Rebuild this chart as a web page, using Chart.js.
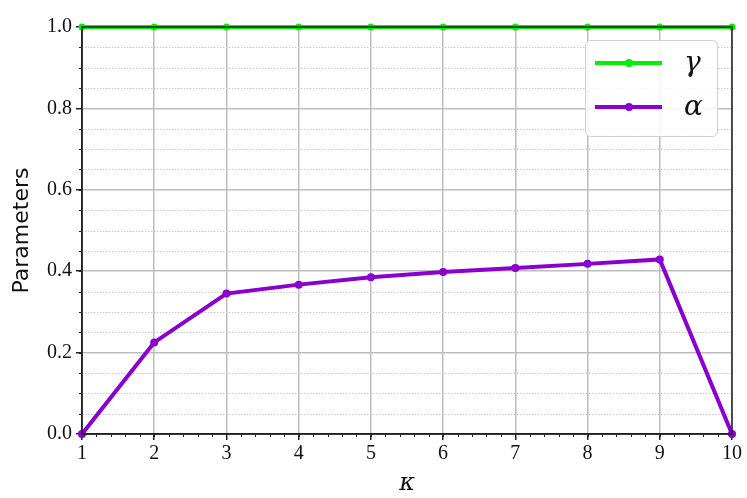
<!DOCTYPE html>
<html>
<head>
<meta charset="utf-8">
<script src="https://cdn.jsdelivr.net/npm/chart.js@4/dist/chart.umd.min.js"></script>
<style>
  html, body { margin: 0; padding: 0; background: #fff; }
  #wrap { width: 747px; height: 498px; }
</style>
</head>
<body>
<div id="wrap"><canvas id="paramChart" width="747" height="498"></canvas></div>
<script>
// data
const kappa = [1, 2, 3, 4, 5, 6, 7, 8, 9, 10];
const gammaVals = [1, 1, 1, 1, 1, 1, 1, 1, 1, 1];
const alphaVals = [0.0, 0.225, 0.345, 0.367, 0.385, 0.398, 0.408, 0.418, 0.429, 0.0];
const yMajorTicks = [0, 0.2, 0.4, 0.6, 0.8, 1.0];
const yMinorStep = 0.05;
const xMinorStep = 0.2;

const serif = "'Liberation Serif', 'DejaVu Serif', serif";
const greek = "'DejaVu Serif', serif";

function toPoints(xs, ys) {
  return xs.map((x, i) => ({ x: x, y: ys[i] }));
}

// dotted minor grid + minor tick marks + frame
const minorGrid = {
  id: 'minorGrid',
  beforeDatasetsDraw(chart) {
    const { ctx, chartArea: a, scales } = chart;
    const y = scales.y, x = scales.x;
    ctx.save();
    ctx.strokeStyle = '#c8c8c8';
    ctx.lineWidth = 1;
    ctx.setLineDash([1.5, 1.5]);
    for (let v = 0; v <= 1.0001; v += yMinorStep) {
      if (yMajorTicks.some(t => Math.abs(t - v) < 1e-6)) continue;
      const py = Math.round(y.getPixelForValue(v)) + 0.5;
      ctx.beginPath();
      ctx.moveTo(a.left, py);
      ctx.lineTo(a.right, py);
      ctx.stroke();
    }
    ctx.setLineDash([]);
    ctx.strokeStyle = '#222';
    // minor ticks on y
    for (let v = 0; v <= 1.0001; v += yMinorStep) {
      const py = Math.round(y.getPixelForValue(v)) + 0.5;
      ctx.beginPath();
      ctx.moveTo(a.left - 3, py);
      ctx.lineTo(a.left, py);
      ctx.stroke();
    }
    // minor ticks on x
    for (let v = kappa[0]; v <= kappa[kappa.length - 1] + 0.0001; v += xMinorStep) {
      const px = Math.round(x.getPixelForValue(v)) + 0.5;
      ctx.beginPath();
      ctx.moveTo(px, a.bottom);
      ctx.lineTo(px, a.bottom + 3);
      ctx.stroke();
    }
    ctx.restore();
  },
  afterDatasetsDraw(chart) {
    const { ctx, chartArea: a } = chart;
    ctx.save();
    ctx.strokeStyle = '#222';
    ctx.lineWidth = 1.5;
    ctx.strokeRect(a.left, a.top, a.right - a.left, a.bottom - a.top);
    ctx.restore();
  }
};

// matplotlib style legend box
const boxLegend = {
  id: 'boxLegend',
  afterDraw(chart) {
    const { ctx } = chart;
    const x0 = 585, y0 = 40, w = 132, h = 96;
    ctx.save();
    ctx.beginPath();
    ctx.roundRect(x0 + 0.5, y0 + 0.5, w, h, 5);
    ctx.fillStyle = 'rgba(255,255,255,0.85)';
    ctx.fill();
    ctx.strokeStyle = '#d0d0d0';
    ctx.lineWidth = 1;
    ctx.stroke();
    chart.data.datasets.forEach((ds, i) => {
      const ly = 63 + i * 44;
      ctx.strokeStyle = ds.borderColor;
      ctx.lineWidth = 4;
      ctx.beginPath();
      ctx.moveTo(595, ly);
      ctx.lineTo(662, ly);
      ctx.stroke();
      ctx.fillStyle = ds.borderColor;
      ctx.beginPath();
      ctx.arc(629, ly, 4, 0, Math.PI * 2);
      ctx.fill();
      ctx.fillStyle = '#111';
      ctx.font = 'italic 28px ' + greek;
      ctx.textBaseline = 'middle';
      ctx.fillText(ds.label, 684, ly + 1);
    });
    ctx.restore();
  }
};

const ctx = document.getElementById('paramChart').getContext('2d');
new Chart(ctx, {
  type: 'line',
  data: {
    datasets: [
      {
        label: 'γ',
        data: toPoints(kappa, gammaVals),
        borderColor: '#00f000',
        backgroundColor: '#00f000',
        borderWidth: 4,
        pointRadius: 3.5,
        pointBorderWidth: 0,
        clip: false
      },
      {
        label: 'α',
        data: toPoints(kappa, alphaVals),
        borderColor: '#8a00cf',
        backgroundColor: '#8a00cf',
        borderWidth: 4,
        pointRadius: 4,
        pointBorderWidth: 0,
        clip: false
      }
    ]
  },
  options: {
    responsive: false,
    animation: false,
    layout: { padding: { left: 0, right: 15, top: 27, bottom: 0 } },
    plugins: {
      legend: { display: false },
      tooltip: { enabled: false }
    },
    scales: {
      x: {
        type: 'linear',
        min: 1,
        max: 10,
        afterFit(scale) { scale.height = 64; },
        ticks: {
          stepSize: 1,
          color: '#111',
          font: { family: serif, size: 20 },
          padding: 2
        },
        grid: {
          color: '#bdbdbd',
          lineWidth: 1.5,
          tickColor: '#222',
          tickLength: 6
        },
        border: { color: '#222', width: 1.5 },
        title: {
          display: true,
          text: 'κ',
          color: '#111',
          font: { family: greek, size: 24, style: 'italic' },
          padding: { top: 0, bottom: 0 }
        }
      },
      y: {
        min: 0,
        max: 1,
        afterFit(scale) { scale.width = 82; },
        afterBuildTicks(scale) {
          scale.ticks = yMajorTicks.map(v => ({ value: v }));
        },
        ticks: {
          color: '#111',
          font: { family: serif, size: 20 },
          padding: 4,
          callback: v => v.toFixed(1)
        },
        grid: {
          color: '#bdbdbd',
          lineWidth: 1.5,
          tickColor: '#222',
          tickLength: 6
        },
        border: { color: '#222', width: 1.5 },
        title: {
          display: true,
          text: 'Parameters',
          color: '#111',
          font: { family: "'DejaVu Sans', sans-serif", size: 22 },
          padding: { top: 9, bottom: 4 }
        }
      }
    }
  },
  plugins: [minorGrid, boxLegend]
});
</script>
</body>
</html>
